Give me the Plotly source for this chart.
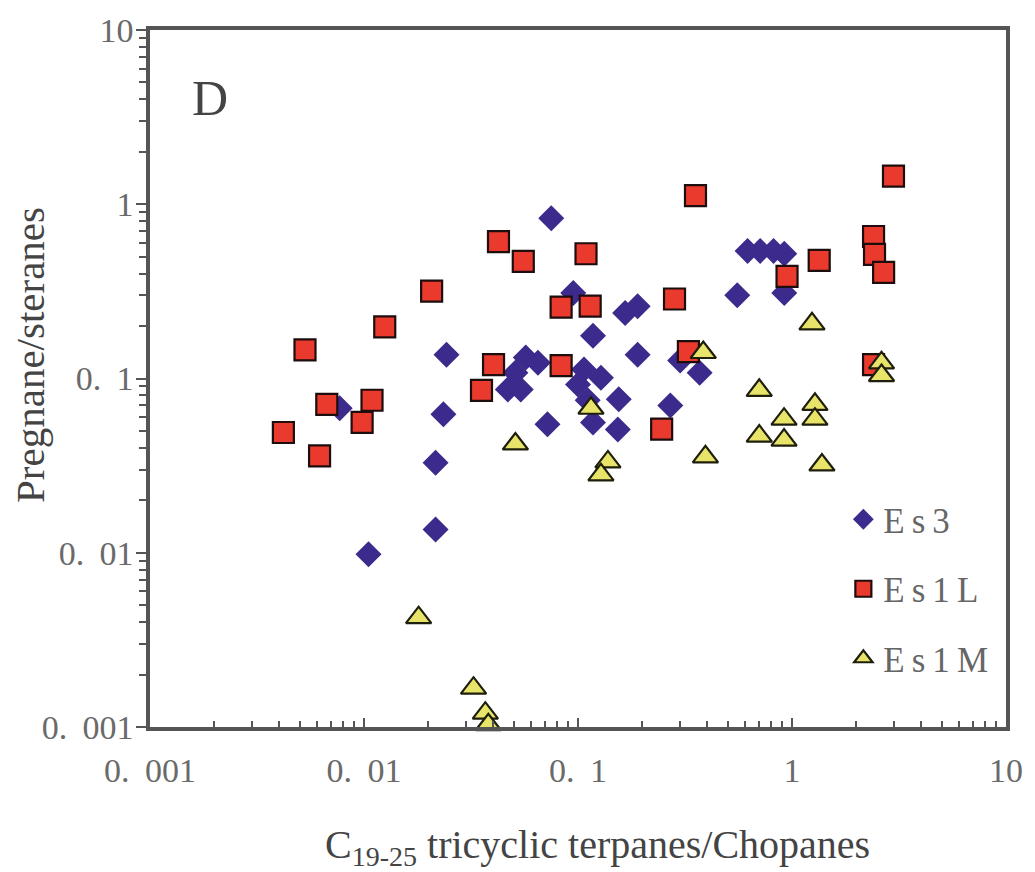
import plotly.graph_objects as go

# Es3 (diamonds)
es3_x = [0.075, 0.62, 0.71, 0.82, 0.92, 0.92, 0.555, 0.095, 0.19, 0.166, 0.1175, 0.19,
         0.0243, 0.057, 0.065, 0.051, 0.047, 0.054, 0.1067, 0.100, 0.111, 0.128, 0.155,
         0.1175, 0.1535, 0.072, 0.0235, 0.0216, 0.0216, 0.0105, 0.0077, 0.30, 0.37, 0.27]
es3_y = [0.83, 0.54, 0.54, 0.54, 0.52, 0.31, 0.30, 0.31, 0.26, 0.238, 0.176, 0.137,
         0.137, 0.132, 0.123, 0.108, 0.0865, 0.0865, 0.1125, 0.0925, 0.075, 0.101, 0.0759,
         0.056, 0.051, 0.0547, 0.0624, 0.0328, 0.0136, 0.0098, 0.0675, 0.127, 0.108, 0.070]

# Es1L (squares)
es1l_x = [2.98, 0.354, 0.0425, 0.0555, 0.109, 0.0834, 0.114, 0.2825, 1.34, 2.405, 2.43,
          2.68, 0.948, 0.328, 0.0834, 0.0403, 0.0354, 0.246, 2.405, 0.0207, 0.0125,
          0.0053, 0.0067, 0.0109, 0.0098, 0.0042, 0.0062]
es1l_y = [1.45, 1.12, 0.61, 0.47, 0.52, 0.257, 0.26, 0.286, 0.476, 0.653, 0.515,
          0.407, 0.386, 0.1425, 0.1186, 0.120, 0.0855, 0.0512, 0.120, 0.317, 0.198,
          0.146, 0.071, 0.075, 0.056, 0.049, 0.036]

# Es1M (triangles)
es1m_x = [1.24, 0.385, 2.62, 2.62, 0.703, 1.28, 1.28, 0.918, 0.703, 0.918, 1.38, 0.394,
          0.115, 0.051, 0.138, 0.128, 0.018, 0.0325, 0.0369, 0.0381]
es1m_y = [0.206, 0.141, 0.123, 0.104, 0.0855, 0.071, 0.0584, 0.0584, 0.0467, 0.0443,
          0.0319, 0.0355, 0.0675, 0.0421, 0.0332, 0.028, 0.00424, 0.00167, 0.00120, 0.00103]

tick_vals = [0.001, 0.01, 0.1, 1, 10]
tick_text = ["0. \u2009001", "0. \u200901", "0. \u20091", "1", "10"]

TS = "\u2009"
names = ["E" + TS + "s" + TS + "3", "E" + TS + "s" + TS + "1" + TS + "L", "E" + TS + "s" + TS + "1" + TS + "M"]

fig = go.Figure()
fig.add_trace(go.Scatter(
    x=es3_x, y=es3_y, mode="markers", name=names[0], legendgroup="g1",
    marker=dict(symbol="diamond", size=20, color="#3c2a8c", line=dict(width=0)),
    cliponaxis=False))
fig.add_trace(go.Scatter(
    x=es1l_x, y=es1l_y, mode="markers", name=names[1], legendgroup="g2",
    marker=dict(symbol="square", size=21, color="#ea3a2e", line=dict(width=2.2, color="#1e0d0d")),
    cliponaxis=False))
fig.add_trace(go.Scatter(
    x=es1m_x, y=es1m_y, mode="markers", name=names[2], legendgroup="g3",
    marker=dict(symbol="triangle-up", size=22, color="#e8e46a", line=dict(width=2.2, color="#1e1e0d")),
    cliponaxis=False))

axis_common = dict(
    type="log", range=[-3, 1], tickvals=tick_vals, ticktext=tick_text,
    showline=True, linewidth=3.5, linecolor="#555555", mirror=True,
    showgrid=False, zeroline=False, tickwidth=2, tickcolor="#555555",
    tickfont=dict(family="Liberation Serif", size=34, color="#6a6a6a"),
)

fig.update_layout(
    width=1035, height=872,
    margin=dict(l=150, r=25, t=25, b=145),
    paper_bgcolor="white", plot_bgcolor="white",
    xaxis=dict(**axis_common, ticks="inside", ticklen=9,
               minor=dict(ticks="inside", ticklen=6, tickwidth=1.5, tickcolor="#555555",
                          dtick="D1", showgrid=False),
               ticklabelstandoff=10),
    yaxis=dict(**axis_common, ticks="outside", ticklen=10,
               minor=dict(ticks="outside", ticklen=7, tickwidth=1.5, tickcolor="#555555",
                          dtick="D1", showgrid=False),
               ticklabelstandoff=-4),
    legend=dict(x=0.81, y=0.34, xanchor="left", yanchor="top",
                font=dict(family="Liberation Serif", size=35, color="#666666"),
                bgcolor="rgba(0,0,0,0)", tracegroupgap=21, itemsizing="trace"),
    showlegend=True,
    annotations=[
        dict(text="D", xref="paper", yref="paper", x=0.07, y=0.903, showarrow=False,
             font=dict(family="Liberation Serif", size=50, color="#444444"),
             xanchor="center", yanchor="middle"),
        dict(text="C<sub>19-25</sub> tricyclic terpanes/Chopanes", xref="paper", yref="paper",
             x=0.523, y=-0.172, showarrow=False, xanchor="center", yanchor="middle",
             font=dict(family="Liberation Serif", size=40, color="#444444")),
        dict(text="Pregnane/steranes", xref="paper", yref="paper", x=-0.14, y=0.534,
             showarrow=False, textangle=-90, xanchor="center", yanchor="middle",
             font=dict(family="Liberation Serif", size=41, color="#444444")),
    ],
)

fig.write_html("out.html")
